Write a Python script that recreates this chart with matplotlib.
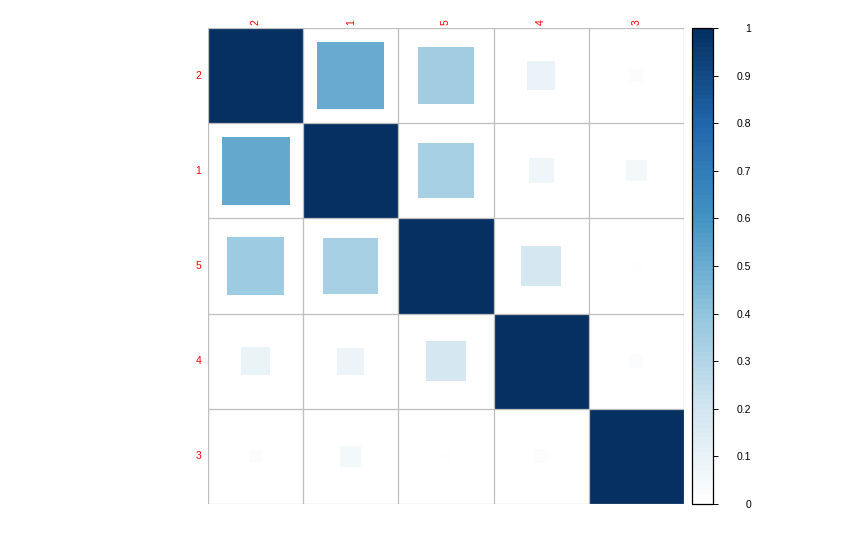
import numpy as np
import matplotlib
matplotlib.use("Agg")
import matplotlib.pyplot as plt
from matplotlib.patches import Rectangle
import matplotlib.colors as mcolors

plt.rcParams['font.family'] = ['Liberation Sans', 'DejaVu Sans']

# variable order as shown (hclust order)
labels = ["2", "1", "5", "4", "3"]

# correlation values (row by row)
row_2 = [1.00, 0.50, 0.35, 0.09, 0.02]
row_1 = [0.51, 1.00, 0.335, 0.07, 0.05]
row_5 = [0.36, 0.335, 1.00, 0.18, 0.013]
row_4 = [0.09, 0.08, 0.18, 1.00, 0.022]
row_3 = [0.02, 0.05, 0.013, 0.022, 1.00]
corr = np.array([row_2, row_1, row_5, row_4, row_3])

cbar_ticks = np.round(np.arange(0, 1.01, 0.1), 1)
cbar_labels = ["0", "0.1", "0.2", "0.3", "0.4", "0.5", "0.6", "0.7", "0.8", "0.9", "1"]

# upper half of the RdBu ramp (white -> navy), 100 steps like corrplot
ramp = ["#FFFFFF", "#D1E5F0", "#92C5DE", "#4393C3", "#2166AC", "#053061"]

W, H = 846, 542
fig = plt.figure(figsize=(W / 100, H / 100), dpi=100)

cmap = mcolors.LinearSegmentedColormap.from_list("rdbu_half", ramp, N=100)
norm = mcolors.Normalize(vmin=0, vmax=1)

# --- matrix ---
ax = fig.add_axes([208 / W, (H - 504) / H, 476 / W, 476 / H])
n = len(labels)
for i in range(n):
    for j in range(n):
        r = corr[i, j]
        side = np.sqrt(abs(r))
        ax.add_patch(Rectangle((j + 0.5 - side / 2, i + 0.5 - side / 2), side, side,
                               facecolor=cmap(norm(r)), edgecolor="none", zorder=1))
for k in range(n + 1):
    ax.axhline(k, color="#BEBEBE", lw=0.9, zorder=2)
    ax.axvline(k, color="#BEBEBE", lw=0.9, zorder=2)
ax.set_xlim(0, n)
ax.set_ylim(n, 0)
ax.set_xticks([])
ax.set_yticks([])
for s in ax.spines.values():
    s.set_visible(False)
for k, lab in enumerate(labels):
    ax.text(k + 0.5, -0.03, lab, rotation=90, ha="center", va="bottom",
            color="red", fontsize=7.5)
    ax.text(-0.07, k + 0.5, lab, ha="right", va="center", color="red", fontsize=7.5)

# --- colour legend ---
cax = fig.add_axes([692 / W, (H - 504) / H, 21 / W, 476 / H])
cb = matplotlib.colorbar.ColorbarBase(cax, cmap=cmap, norm=norm, orientation="vertical")
cb.outline.set_edgecolor("black")
cb.outline.set_linewidth(0.9)
cb.set_ticks(cbar_ticks)
cax.set_yticklabels(cbar_labels)
cax.tick_params(axis="y", length=3.6, width=0.7, direction="out", pad=24,
                labelsize=7.5, labelcolor="black")
for t in cax.get_yticklabels():
    t.set_ha("right")

fig.savefig("out.png", dpi=100)
